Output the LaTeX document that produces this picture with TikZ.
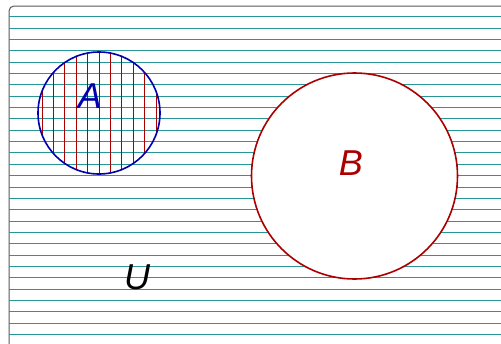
\documentclass[tikz,border=0pt]{standalone}
\usepackage{fontspec}
\setsansfont{Liberation Sans}
\definecolor{RuleTeal}{RGB}{40,150,150}
\definecolor{SetRed}{RGB}{170,0,0}
\definecolor{SetBlue}{RGB}{0,0,175}

\begin{document}
\begin{tikzpicture}[x=1pt,y=-1pt,font=\sffamily\itshape\fontsize{36}{40}\selectfont,
    rule/.style={RuleTeal,line width=1pt},
    hatch/.style={SetRed,line width=0.9pt},
    setline/.style={line width=1.6pt}]
  \useasboundingbox (0,0) rectangle (501,343);
  \fill[white] (0,0) rectangle (501,343);
  % universe frame
  \draw[line width=1pt,black!65,rounded corners=5pt] (9,360) -- (9,6) -- (520,6);
  \foreach \k in {0,...,28} {
    \draw[rule] (9,16.7+11.357*\k) -- (501,16.7+11.357*\k);
  }
  % set B cut out of the ruling
  \fill[white] (354.5,176) circle (103);
  \draw[setline,SetRed] (354.5,176) circle (103);
  % set A with vertical hatching
  \begin{scope}
    \clip (99,113) circle (61.5);
    \foreach \x in {42,53.4,...,160} {
      \draw[hatch] (\x,50) -- (\x,176);
    }
  \end{scope}
  \draw[setline,SetBlue] (99,113) circle (61);
  \node[SetBlue] (labA) at (90,96) {A};
  \node[SetRed] (labB) at (351,163) {B};
  \node[black] (labU) at (137,277) {U};
\end{tikzpicture}
\end{document}
